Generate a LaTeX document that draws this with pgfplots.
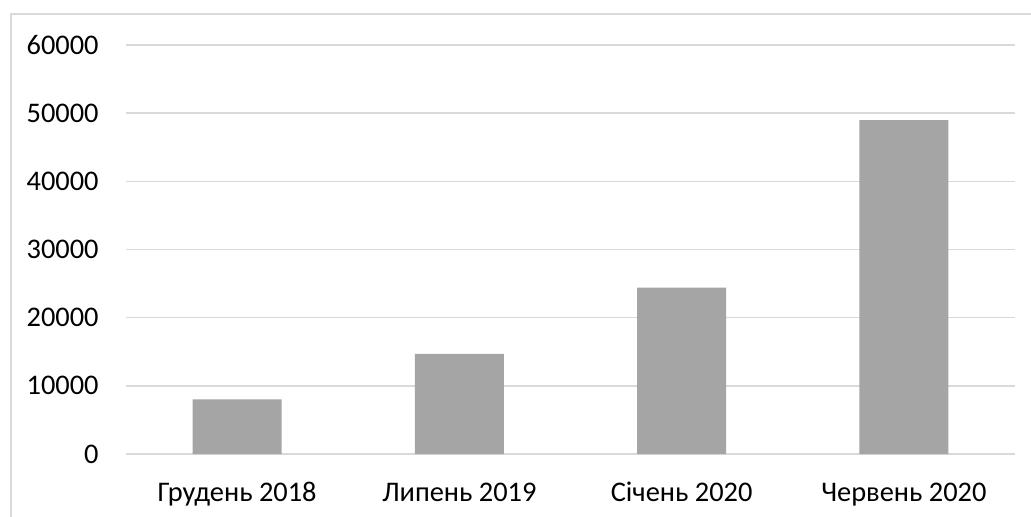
\documentclass[border=0pt]{standalone}
\usepackage{pgfplots}
\pgfplotsset{compat=1.18}
\usepackage{fontspec}
\setmainfont{Carlito}
\definecolor{gridc}{HTML}{D9D9D9}
\definecolor{barc}{HTML}{A5A5A5}
\begin{document}
\fontsize{14.2}{16}\selectfont
\begin{tikzpicture}
\useasboundingbox (0,0) rectangle (515.5pt,258pt);
\draw[gridc, line width=0.9pt] (5.5pt,-2pt) -- (5.5pt,251pt) -- (520pt,251pt);
\begin{axis}[
  at={(63pt,31pt)}, anchor=south west,
  scale only axis, width=444.5pt, height=204.5pt,
  xmin=-0.5, xmax=3.5, ymin=0, ymax=60000,
  xtick={0,1,2,3},
  xticklabels={Грудень 2018, Липень 2019, Січень 2020, Червень 2020},
  ytick={0,10000,...,60000},
  axis line style={draw=none},
  major tick length=0pt,
  ymajorgrids, grid style={gridc, line width=0.8pt},
  /pgf/number format/assume math mode=true,
  /pgf/number format/set thousands separator={},
  scaled y ticks=false,
  xticklabel style={inner sep=0pt, anchor=north, text height=9.1pt, text depth=3pt, yshift=-14.5pt, font=\fontsize{14.2}{16}\selectfont},
  yticklabel style={inner sep=0pt, anchor=east, xshift=-13.5pt, font=\fontsize{14.2}{16}\selectfont},
  ybar, bar width=44.5pt, bar shift=0pt,
]
\addplot[fill=barc, draw=none] coordinates {(0,8000) (1,14700) (2,24400) (3,49000)};
\end{axis}
\end{tikzpicture}
\end{document}
